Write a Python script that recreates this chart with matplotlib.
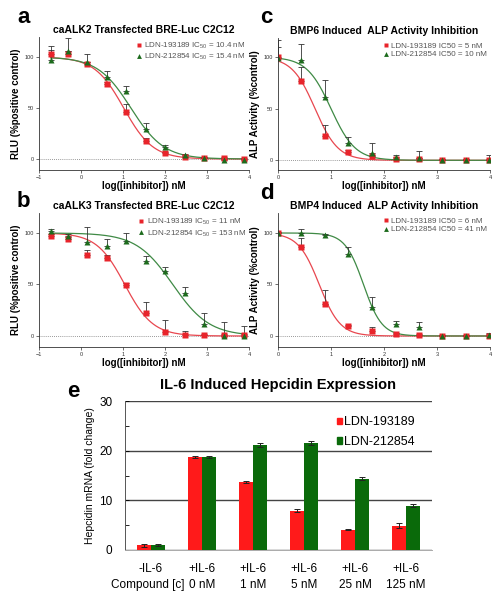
import numpy as np
import matplotlib as mpl
import matplotlib.pyplot as plt
from matplotlib.lines import Line2D
from matplotlib.patches import Patch
import matplotlib.transforms as mtrans

mpl.rcParams['font.family'] = ['Liberation Sans', 'DejaVu Sans']
mpl.rcParams['mathtext.default'] = 'regular'

# dose-response data (log10 nM, % of control, upper error)
x_ab = [-0.72, -0.32, 0.15, 0.61, 1.07, 1.54, 2.0, 2.47, 2.94, 3.41, 3.88]
x_cd = [0, 0.44, 0.88, 1.33, 1.78, 2.22, 2.66, 3.1, 3.55, 3.99]

a_red = [102.6, 102.6, 93.5, 73.4, 46, 18, 6, 2, 0.6, 0.6, 0]
a_red_err = [4.5, 3, 2, 2, 8, 3, 1, 1, 1, 1, 1]
a_grn = [96.7, 105.5, 94.8, 80, 67, 29, 12, 4, 1.3, -0.6, -1.3]
a_grn_err = [14, 13.5, 8, 6, 4.4, 6, 1.5, 1, 1, 1, 1]

b_red = [97.4, 93.9, 79, 75.8, 49.7, 22, 3.9, 0.6, 0.6, 0.6, 0.6]
b_red_err = [2, 2, 4, 2.5, 1.5, 10.6, 12, 4.4, 1, 1, 1]
b_grn = [102, 97, 91, 87, 92.6, 73, 63, 42, 11.6, 0.3, 0]
b_grn_err = [2, 2, 14.5, 7.5, 7, 5, 4, 6, 10.4, 13.2, 10]

c_red = [100, 77, 23.5, 7.7, 3.9, 1, 1, 0.6, 0.6, 0.6]
c_red_err = [10, 13, 10.5, 2, 1, 1, 1, 0.5, 0.5, 0.5]
c_grn = [99.4, 97, 61, 17, 6.8, 3, 2.6, 0.6, 0.6, 0.6]
c_grn_err = [17, 15.5, 17, 6, 10, 2, 6.4, 1, 1, 4.4]

d_red = [100, 86.8, 31, 10, 4.8, 1.6, 1, 0.3, 0, 0.3]
d_red_err = [1, 8, 14, 0.5, 4.2, 1, 1, 0.5, 0.5, 2.7]
d_grn = [100, 99.7, 98.4, 79.7, 28, 11.3, 9, 0, 0, 0.6]
d_grn_err = [1, 4.3, 1, 6.8, 10, 3.2, 4.5, 0.5, 0.5, 1]

# fitted IC50 (nM) and hill slopes
ic50_red = {'a': 10.4, 'b': 11, 'c': 5, 'd': 6}
ic50_grn = {'a': 15.4, 'b': 153, 'c': 10, 'd': 41}
hill_red = {'a': 1.25, 'b': 1.3, 'c': 2.0, 'd': 2.2}
hill_grn = {'a': 1.1, 'b': 1.0, 'c': 1.9, 'd': 2.5}

titles = {'a': 'caALK2 Transfected BRE-Luc C2C12',
          'b': 'caALK3 Transfected BRE-Luc C2C12',
          'c': 'BMP6 Induced  ALP Activity Inhibition',
          'd': 'BMP4 Induced  ALP Activity Inhibition'}
labels_red = {'a': 'LDN-193189 IC$_{50}$ = 10.4 nM', 'b': 'LDN-193189 IC$_{50}$ = 11 nM',
              'c': 'LDN-193189 IC50 = 5 nM', 'd': 'LDN-193189 IC50 = 6 nM'}
labels_grn = {'a': 'LDN-212854 IC$_{50}$ = 15.4 nM', 'b': 'LDN-212854 IC$_{50}$ = 153 nM',
              'c': 'LDN-212854 IC50 = 10 nM', 'd': 'LDN-212854 IC50 = 41 nM'}

# bar chart data
cats = ['-IL-6', '+IL-6\n0 nM', '+IL-6\n1 nM', '+IL-6\n5 nM', '+IL-6\n25 nM', '+IL-6\n125 nM']
bar_red = [1.0, 18.7, 13.7, 7.9, 4.1, 4.9]
bar_red_err = [0.3, 0.2, 0.2, 0.3, 0.1, 0.5]
bar_grn = [1.0, 18.7, 21.1, 21.6, 14.3, 8.9]
bar_grn_err = [0.2, 0.2, 0.4, 0.4, 0.3, 0.3]

RED = '#e8242b'
GRN = '#1d6b1d'
RED_L = '#e8474f'
GRN_L = '#3f8a45'

W, H = 502, 600
fig = plt.figure(figsize=(W / 100, H / 100), dpi=100)


def px_axes(l, t, r, b):
    return fig.add_axes([l / W, 1 - b / H, (r - l) / W, (b - t) / H])


def logistic(x, ic50, h):
    return 100 / (1 + 10 ** (h * (x - np.log10(ic50))))


def dose_panel(key, box, xs, yr, er, yg, eg, xlim, ylim, ylabel):
    ax = px_axes(*box)
    xs = np.array(xs)
    xx = np.linspace(xs[0], xs[-1], 300)
    ax.plot(xx, logistic(xx, ic50_red[key], hill_red[key]), color=RED_L, lw=0.9)
    ax.plot(xx, logistic(xx, ic50_grn[key], hill_grn[key]), color=GRN_L, lw=0.9)
    ax.axhline(0, color='#777777', ls=(0, (1, 1.5)), lw=0.6, zorder=0)
    ax.errorbar(xs, yg, yerr=[np.zeros(len(eg)), eg], fmt='none', ecolor='#333333',
                elinewidth=0.6, capsize=2, capthick=0.6)
    ax.errorbar(xs, yr, yerr=[np.zeros(len(er)), er], fmt='none', ecolor='#333333',
                elinewidth=0.6, capsize=2, capthick=0.6)
    ax.plot(xs, yr, 's', color=RED, ms=3.8, mec='none')
    ax.plot(xs, yg, '^', color=GRN, ms=3.8, mec='none')
    ax.set_xlim(*xlim)
    ax.set_ylim(*ylim)
    ax.set_yticks([0, 50, 100])
    ax.set_xticks(range(int(xlim[0]), int(xlim[1]) + 1))
    for s in ['top', 'right']:
        ax.spines[s].set_visible(False)
    for s in ['left', 'bottom']:
        ax.spines[s].set_linewidth(0.6)
        ax.spines[s].set_color('#333333')
    ax.tick_params(labelsize=4, length=2, width=0.5, pad=1.5, colors='#333333')
    ax.set_xlabel('log([inhibitor]) nM', fontsize=7, fontweight='bold', labelpad=1)
    ax.set_ylabel(ylabel, fontsize=7, fontweight='bold', labelpad=3)
    ax.set_title(titles[key], fontsize=7.5, fontweight='bold', pad=3)
    handles = [Line2D([], [], marker='s', ls='none', color=RED, ms=3.5, mec='none'),
               Line2D([], [], marker='^', ls='none', color=GRN, ms=3.5, mec='none')]
    leg = ax.legend(handles, [labels_red[key], labels_grn[key]], loc='upper right',
                    bbox_to_anchor=(1.0, 0.995), frameon=False, fontsize=5.8,
                    handletextpad=0.15, handlelength=1.0, labelspacing=0.15,
                    borderaxespad=0)
    for t in leg.get_texts():
        t.set_color('#555555')
    return ax


dose_panel('a', (39, 37, 249, 170), x_ab, a_red, a_red_err, a_grn, a_grn_err,
           (-1, 4), (-10.8, 119.6), 'RLU (%positive control)')
dose_panel('b', (39, 213, 249, 347), x_ab, b_red, b_red_err, b_grn, b_grn_err,
           (-1, 4), (-10.7, 119.4), 'RLU (%positive control)')
dose_panel('c', (278, 38, 490, 170), x_cd, c_red, c_red_err, c_grn, c_grn_err,
           (0, 4), (-9.4, 118.4), 'ALP Activity (%control)')
dose_panel('d', (278, 213, 490, 347), x_cd, d_red, d_red_err, d_grn, d_grn_err,
           (0, 4), (-10.7, 119.4), 'ALP Activity (%control)')

# bar panel e
ax = px_axes(125, 401, 432, 550)
pos = np.arange(len(cats))
bw = 0.28
ax.bar(pos - bw / 2, bar_red, bw, color='#ff1a1a', yerr=bar_red_err,
       error_kw=dict(ecolor='#222222', elinewidth=0.7, capsize=2.2, capthick=0.7))
ax.bar(pos + bw / 2, bar_grn, bw, color='#0a6a0a', yerr=bar_grn_err,
       error_kw=dict(ecolor='#222222', elinewidth=0.7, capsize=2.2, capthick=0.7))
ax.set_xlim(-0.51, 5.51)
ax.set_ylim(0, 30)
ax.set_yticks([0, 10, 20, 30])
ax.set_yticks([5, 15, 25], minor=True)
ax.yaxis.grid(True, which='major', color='#444444', lw=1.0)
ax.set_axisbelow(True)
ax.set_xticks(pos)
ax.set_xticklabels(cats, fontsize=8.5, linespacing=1.55)
ax.tick_params(axis='x', length=0, pad=9)
ax.tick_params(axis='y', which='both', direction='in', length=3, width=0.6,
               labelsize=8.5, pad=9)
for s in ['top', 'right']:
    ax.spines[s].set_visible(False)
ax.spines['left'].set_color('#555555')
ax.spines['left'].set_linewidth(0.7)
ax.spines['bottom'].set_color('#aaaaaa')
ax.spines['bottom'].set_linewidth(0.7)
ax.set_ylabel('Hepcidin mRNA (fold change)', fontsize=7.5, labelpad=3)
ax.set_title('IL-6 Induced Hepcidin Expression', fontsize=10.5, fontweight='bold', pad=9)
trans = mtrans.blended_transform_factory(ax.transData, ax.transAxes)
ax.text(0.66, -0.195, 'Compound [c]', transform=trans, ha='right', va='top', fontsize=8.5)
leg = ax.legend([Patch(color='#ff1a1a'), Patch(color='#0a6a0a')],
                ['LDN-193189', 'LDN-212854'], loc='upper right',
                bbox_to_anchor=(0.96, 0.93), frameon=False, fontsize=9,
                handlelength=0.4, handleheight=0.45, handletextpad=0.2,
                labelspacing=0.6, borderaxespad=0)

# panel letters
for letter, x, y in [('a', 17, 23), ('b', 17, 207), ('c', 260, 23), ('d', 260, 199),
                     ('e', 67, 397)]:
    fig.text(x / W, 1 - y / H, letter, fontsize=16, fontweight='bold')

fig.savefig('out.png', dpi=100)
